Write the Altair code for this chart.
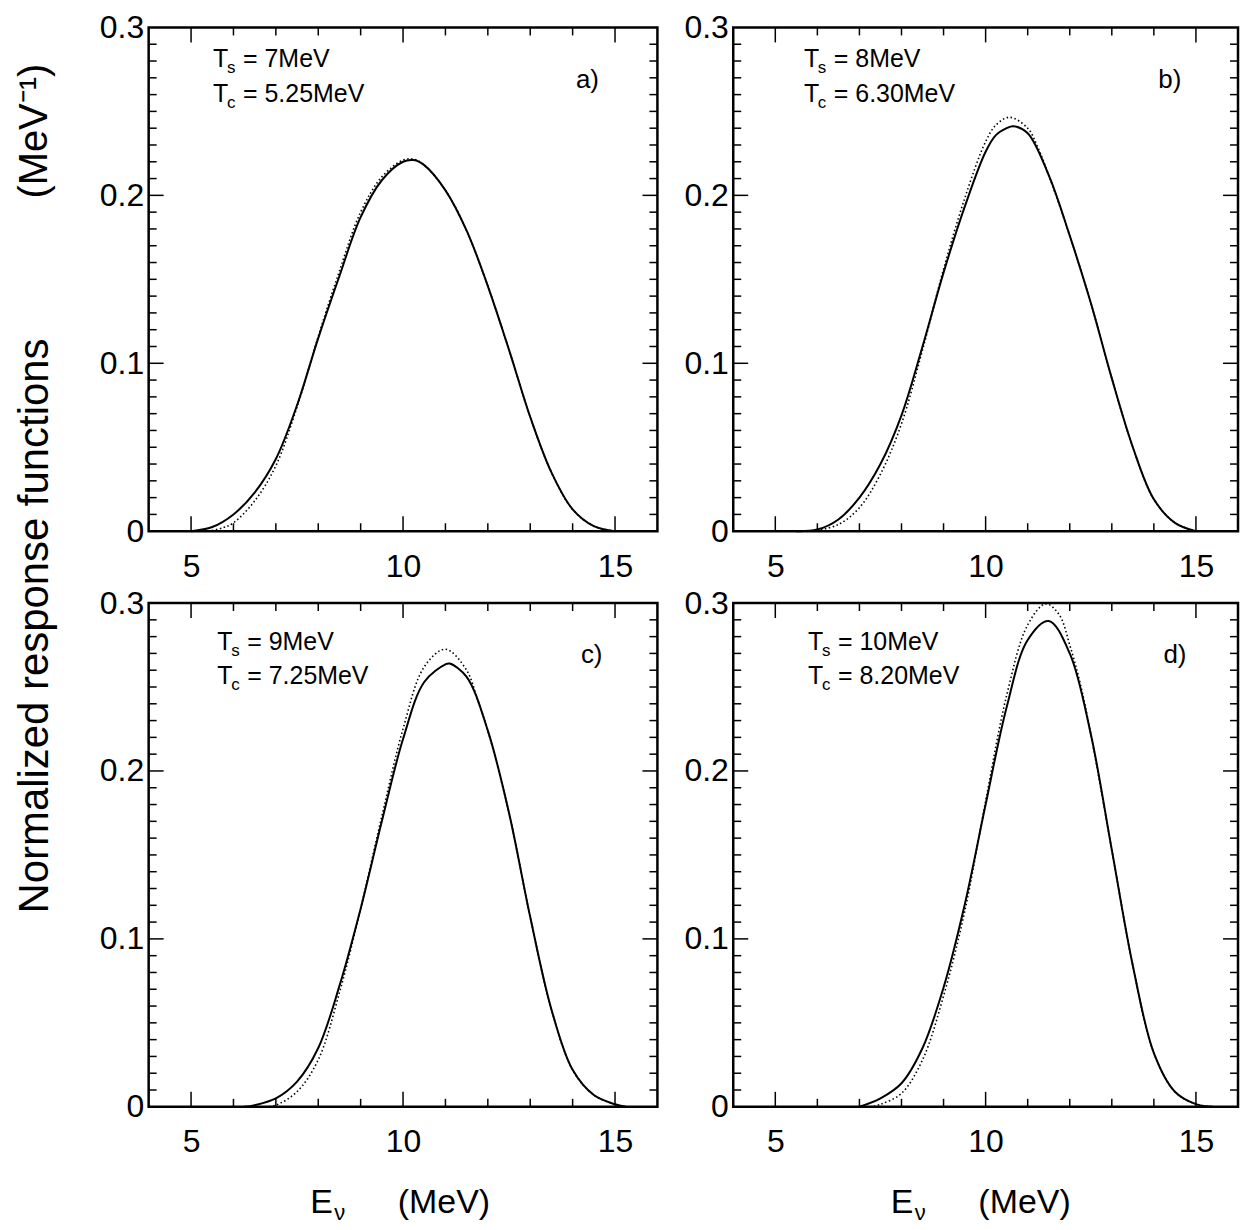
import altair as alt
import pandas as pd

FONT = "Liberation Sans"

# ---------------- data ----------------
# panel a) Ts = 7 MeV, Tc = 5.25 MeV
xa_s = [5, 5.5, 6, 6.5, 7, 7.5, 8, 8.5, 9, 9.5, 10, 10.25, 10.5, 11, 11.5, 12, 12.5, 13, 13.5, 14, 14.5, 15]
ya_s = [0, 0.0025, 0.010, 0.023, 0.043, 0.075, 0.115, 0.152, 0.187, 0.209, 0.220, 0.221, 0.218, 0.203, 0.179, 0.146, 0.108, 0.068, 0.035, 0.013, 0.003, 0.0]
xa_d = [5.4, 5.75, 6, 6.5, 7, 7.5, 8, 8.5, 9, 9.5, 10, 10.25, 10.5, 11, 11.5, 12, 12.5, 13, 13.5, 14, 14.5, 15]
ya_d = [0, 0.002, 0.005, 0.018, 0.039, 0.074, 0.116, 0.155, 0.190, 0.211, 0.221, 0.2215, 0.218, 0.203, 0.179, 0.146, 0.108, 0.068, 0.035, 0.013, 0.003, 0.0]

# panel b) Ts = 8 MeV, Tc = 6.30 MeV
xb_s = [5.5, 6, 6.5, 7, 7.5, 8, 8.5, 9, 9.5, 10, 10.25, 10.5, 10.65, 11, 11.5, 12, 12.5, 13, 13.5, 14, 14.5, 15]
yb_s = [0, 0.001, 0.007, 0.020, 0.040, 0.069, 0.110, 0.154, 0.193, 0.226, 0.236, 0.240, 0.2412, 0.237, 0.212, 0.176, 0.136, 0.091, 0.050, 0.019, 0.005, 0]
xb_d = [5.9, 6.5, 7, 7.5, 8, 8.5, 9, 9.5, 10, 10.25, 10.57, 11, 11.25, 11.5, 12, 12.5, 13, 13.5, 14, 14.5, 15]
yb_d = [0, 0.004, 0.014, 0.034, 0.064, 0.108, 0.156, 0.198, 0.232, 0.242, 0.2465, 0.240, 0.228, 0.212, 0.176, 0.136, 0.091, 0.050, 0.019, 0.005, 0]

# panel c) Ts = 9 MeV, Tc = 7.25 MeV
xc_s = [6.25, 6.5, 7, 7.5, 8, 8.5, 9, 9.5, 10, 10.5, 11, 11.1, 11.5, 12, 12.5, 13, 13.5, 14, 14.5, 15, 15.25]
yc_s = [0, 0.001, 0.005, 0.015, 0.035, 0.072, 0.118, 0.170, 0.219, 0.253, 0.2635, 0.264, 0.256, 0.224, 0.175, 0.113, 0.058, 0.022, 0.007, 0.0015, 0]
xc_d = [6.75, 7, 7.5, 8, 8.5, 9, 9.5, 10, 10.5, 11, 11.5, 11.75, 12, 12.5, 13, 13.5, 14, 14.5, 15, 15.25]
yc_d = [0, 0.001, 0.009, 0.028, 0.068, 0.118, 0.173, 0.225, 0.262, 0.2725, 0.260, 0.243, 0.224, 0.175, 0.113, 0.058, 0.022, 0.007, 0.0015, 0]

# panel d) Ts = 10 MeV, Tc = 8.20 MeV
xd_s = [7, 7.5, 8, 8.5, 9, 9.5, 10, 10.5, 11, 11.5, 12, 12.5, 13, 13.5, 14, 14.5, 15, 15.4]
yd_s = [0, 0.005, 0.014, 0.035, 0.071, 0.120, 0.180, 0.238, 0.278, 0.2893, 0.270, 0.222, 0.153, 0.084, 0.032, 0.009, 0.0016, 0]
xd_d = [7.25, 7.5, 8, 8.5, 9, 9.5, 10, 10.5, 11, 11.43, 11.75, 12, 12.25, 12.5, 13, 13.5, 14, 14.5, 15, 15.4]
yd_d = [0, 0.0015, 0.008, 0.028, 0.066, 0.116, 0.182, 0.245, 0.287, 0.2995, 0.293, 0.275, 0.252, 0.222, 0.153, 0.084, 0.032, 0.009, 0.0016, 0]

panel_keys = ["a", "b", "c", "d"]
ts_text = ["= 7MeV", "= 8MeV", "= 9MeV", "= 10MeV"]
tc_text = ["= 5.25MeV", "= 6.30MeV", "= 7.25MeV", "= 8.20MeV"]
labels = ["a)", "b)", "c)", "d)"]

# tick / label values
x_labels = [5, 10, 15]
x_major = [5, 10, 15]
x_minor = [6, 7, 8, 9, 11, 12, 13, 14]
y_labels = [0, 0.1, 0.2, 0.3]
y_major = [0.1, 0.2]
y_minor = [round(0.01 * i, 2) for i in range(1, 30) if i % 10 != 0]

series = {
    "a": (xa_s, ya_s, xa_d, ya_d),
    "b": (xb_s, yb_s, xb_d, yb_d),
    "c": (xc_s, yc_s, xc_d, yc_d),
    "d": (xd_s, yd_s, xd_d, yd_d),
}

# annotation anchor positions (data coordinates)
ann_x = {"a": 5.52, "b": 5.68, "c": 5.62, "d": 5.78}
ann_y1 = {"a": 0.2764, "b": 0.2764, "c": 0.2723, "d": 0.2723}
ann_y2 = {"a": 0.2557, "b": 0.2557, "c": 0.2515, "d": 0.2515}
lab_x = {"a": 14.35, "b": 14.38, "c": 14.45, "d": 14.5}
lab_y = {"a": 0.2686, "b": 0.2686, "c": 0.2693, "d": 0.2693}

widths = {"a": 510, "b": 506, "c": 510, "d": 506}
H = 505

xscale = alt.Scale(domain=[4, 16], nice=False, zero=False)
yscale = alt.Scale(domain=[0, 0.3], nice=False, zero=False)

LABEL_SIZE = 32

X_AXIS = alt.Axis(values=x_labels, ticks=False, tickSize=0, domain=False, grid=False,
                  labelFontSize=LABEL_SIZE, labelFont=FONT, labelColor="black",
                  labelPadding=20, labelFlush=False, title=None)
Y_AXIS = alt.Axis(values=y_labels, ticks=False, tickSize=0, domain=False, grid=False,
                  labelFontSize=LABEL_SIZE, labelFont=FONT, labelColor="black",
                  labelPadding=5, labelFlush=False, title=None,
                  labelExpr="datum.value == 0 ? '0' : format(datum.value, '.1f')")


def X():
    return alt.X("x:Q", scale=xscale, axis=X_AXIS, title=None)


def Y():
    return alt.Y("y:Q", scale=yscale, axis=Y_AXIS, title=None)


def make_panel(key, bottom):
    W = widths[key]
    xs, ys, xd, yd = series[key]
    df_s = pd.DataFrame({"x": xs, "y": ys})
    df_d = pd.DataFrame({"x": xd, "y": yd})

    solid = alt.Chart(df_s).mark_line(color="black", strokeWidth=2, interpolate="catmull-rom").encode(
        x=X(), y=Y())
    dotted = alt.Chart(df_d).mark_line(color="black", strokeWidth=1.6, strokeDash=[1.5, 2.5],
                                       interpolate="catmull-rom").encode(x=X(), y=Y())

    layers = [solid, dotted]

    # ticks pointing inward on all four sides
    for vals, ln in ((x_major, 15), (x_minor, 8)):
        dft = pd.DataFrame({"x": vals})
        layers.append(alt.Chart(dft).mark_rule(color="black", strokeWidth=1.5).encode(
            x=X(), y=alt.value(H), y2=alt.value(H - ln)))
        layers.append(alt.Chart(dft).mark_rule(color="black", strokeWidth=1.5).encode(
            x=X(), y=alt.value(0), y2=alt.value(ln)))
    for vals, ln in ((y_major, 15), (y_minor, 8)):
        dft = pd.DataFrame({"y": vals})
        layers.append(alt.Chart(dft).mark_rule(color="black", strokeWidth=1.5).encode(
            y=Y(), x=alt.value(0), x2=alt.value(ln)))
        layers.append(alt.Chart(dft).mark_rule(color="black", strokeWidth=1.5).encode(
            y=Y(), x=alt.value(W), x2=alt.value(W - ln)))

    i = panel_keys.index(key)
    df_ann = pd.DataFrame({
        "x": [ann_x[key], ann_x[key]],
        "y": [ann_y1[key], ann_y2[key]],
        "sub": ["s", "c"],
        "rest": [ts_text[i], tc_text[i]],
        "T": ["T", "T"],
    })
    base_txt = dict(color="black", font=FONT, align="left", baseline="alphabetic")
    layers.append(alt.Chart(df_ann).mark_text(fontSize=25, **base_txt).encode(
        x=X(), y=Y(), text="T:N"))
    layers.append(alt.Chart(df_ann).mark_text(fontSize=17, dx=14, dy=6, **base_txt).encode(
        x=X(), y=Y(), text="sub:N"))
    layers.append(alt.Chart(df_ann).mark_text(fontSize=25, dx=30, **base_txt).encode(
        x=X(), y=Y(), text="rest:N"))

    df_lab = pd.DataFrame({"x": [lab_x[key]], "y": [lab_y[key]], "t": [labels[i]]})
    layers.append(alt.Chart(df_lab).mark_text(fontSize=26, font=FONT, color="black",
                                              align="center", baseline="middle").encode(
        x=X(), y=Y(), text="t:N"))

    if bottom:
        xt = 162 if key == "c" else 158
        for txt, dx, dy, size, align in (("E", 0, 0, 34, "left"), ("ν", 24, 7, 22, "left"),
                                          ("(MeV)", 134, 0, 34, "center")):
            layers.append(alt.Chart(pd.DataFrame({"t": [txt]})).mark_text(
                fontSize=size, font=FONT, color="black", align=align, baseline="alphabetic").encode(
                x=alt.value(xt + dx), y=alt.value(H + 106 + dy), text="t:N"))

    return alt.layer(*layers).properties(width=W, height=H)


pa = make_panel("a", False)
pb = make_panel("b", False)
pc = make_panel("c", True)
pd_ = make_panel("d", True)

title_df1 = pd.DataFrame({"t": ["Normalized response functions"]})
title_df2 = pd.DataFrame({"t": ["(MeV⁻¹)"]})
title_chart = alt.layer(
    alt.Chart(title_df1).mark_text(angle=270, fontSize=42, font=FONT, color="black",
                                   align="center", baseline="middle").encode(
        x=alt.value(27), y=alt.value(600), text="t:N"),
    alt.Chart(title_df2).mark_text(angle=270, fontSize=40, font=FONT, color="black",
                                   align="center", baseline="middle").encode(
        x=alt.value(27), y=alt.value(104), text="t:N"),
).properties(width=50, height=1080, view=alt.ViewBackground(strokeOpacity=0))

grid = alt.vconcat(
    alt.hconcat(pa, pb, spacing=23),
    alt.hconcat(pc, pd_, spacing=23),
    spacing=1,
)

chart = alt.hconcat(title_chart, grid, spacing=40).properties(
    padding=0, background="white"
).configure_view(stroke="black", strokeWidth=2.5)

chart.save("out.html", embed_options={"renderer": "svg", "actions": False})
